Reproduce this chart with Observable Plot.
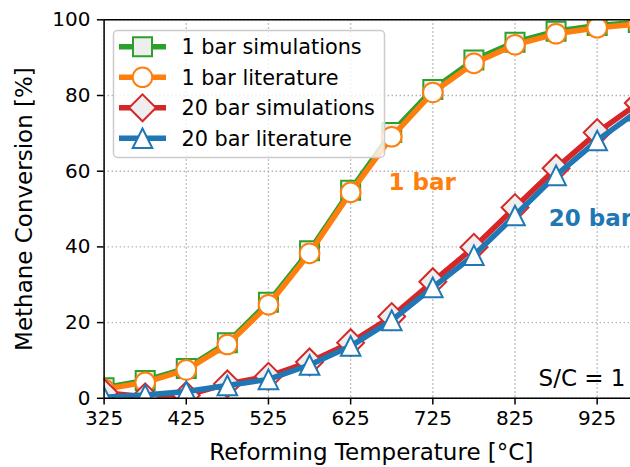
<!DOCTYPE html>
<html>
<head>
<meta charset="utf-8">
<script src="https://cdn.jsdelivr.net/npm/d3@7"></script>
<script src="https://cdn.jsdelivr.net/npm/@observablehq/plot@0.6"></script>
<style>
  html, body { margin: 0; padding: 0; background: #fff; overflow: hidden; }
  #chart { position: relative; width: 630px; height: 467px; }
  #chart svg { display: block; }
  #legend { position: absolute; left: 0; top: 0; pointer-events: none; }
</style>
</head>
<body>
<div id="chart"></div>
<script>
// Reforming temperature [°C]
const temperatures = [325, 375, 425, 475, 525, 575, 625, 675, 725, 775, 825, 875, 925, 975];

// Methane conversion [%]
const sim1bar  = [2.8, 4.7, 7.9, 14.7, 25.4, 39.0, 55.0, 70.2, 81.6, 89.4, 94.1, 97.0, 98.5, 99.3];
const lit1bar  = [2.4, 4.2, 7.5, 14.2, 24.7, 38.3, 54.4, 69.1, 80.8, 88.5, 93.4, 96.3, 97.9, 98.9];
const sim20bar = [1.5, 0.4, 0.8, 3.8, 5.8, 9.6, 14.7, 21.6, 30.8, 39.9, 50.4, 60.8, 70.2, 78.0];
const lit20bar = [0.3, 0.9, 1.8, 3.4, 5.0, 8.8, 13.8, 20.6, 29.3, 37.8, 48.3, 58.9, 68.1, 76.0];

const seriesNames = ["1 bar simulations", "1 bar literature", "20 bar simulations", "20 bar literature"];
const xTicks = [325, 425, 525, 625, 725, 825, 925];
const yTicks = [0, 20, 40, 60, 80, 100];

const annotations = [
  {text: "1 bar", T: 671, v: 57.0, color: "#ff7f0e"},
  {text: "20 bar", T: 866, v: 47.4, color: "#1f77b4"}
];
const conditionLabel = "S/C = 1";

// matplotlib-style marker shapes (r = half the marker size)
const halfSize = (size) => Math.sqrt(size / Math.PI);
const mplSquare = {draw(ctx, size) { const h = halfSize(size);
  ctx.moveTo(-h, -h); ctx.lineTo(h, -h); ctx.lineTo(h, h); ctx.lineTo(-h, h); ctx.closePath(); }};
const mplDiamond = {draw(ctx, size) { const h = halfSize(size) * Math.SQRT2;
  ctx.moveTo(0, -h); ctx.lineTo(h, 0); ctx.lineTo(0, h); ctx.lineTo(-h, 0); ctx.closePath(); }};
const mplTriangle = {draw(ctx, size) { const h = halfSize(size);
  ctx.moveTo(0, -h); ctx.lineTo(h, h); ctx.lineTo(-h, h); ctx.closePath(); }};
const mplCircle = d3.symbolCircle;

const series = [
  {name: seriesNames[0], values: sim1bar,  color: "#2ca02c", symbol: mplSquare,   fill: "#eeeeee", r: 9.5},
  {name: seriesNames[1], values: lit1bar,  color: "#ff7f0e", symbol: mplCircle,   fill: "#ffffff", r: 9.8},
  {name: seriesNames[2], values: sim20bar, color: "#d62728", symbol: mplDiamond,  fill: "#eeeeee", r: 9.5},
  {name: seriesNames[3], values: lit20bar, color: "#1f77b4", symbol: mplTriangle, fill: "#ffffff", r: 9.8}
];

const W = 630, H = 467;
const margin = {left: 103.6, top: 19.3, right: 0, bottom: 69.2};
const pxPerDeg = 0.8218;
const xMax = 325 + (W - margin.left) / pxPerDeg;

const seriesMarks = series.flatMap(s => {
  const rows = temperatures.map((T, i) => ({T, v: s.values[i]}));
  return [
    Plot.line(rows, {x: "T", y: "v", stroke: s.color, strokeWidth: 5.5, clip: true}),
    Plot.dot(rows, {x: "T", y: "v", symbol: s.symbol, r: s.r, fill: s.fill, stroke: s.color, strokeWidth: 2, clip: true})
  ];
});

const chart = Plot.plot({
  width: W,
  height: H,
  marginLeft: margin.left,
  marginTop: margin.top,
  marginRight: margin.right,
  marginBottom: margin.bottom,
  style: {fontFamily: "DejaVu Sans", fontSize: "20px", color: "#000", background: "#fff"},
  x: {domain: [325, xMax]},
  y: {domain: [0, 100]},
  marks: [
    Plot.ruleX(xTicks, {stroke: "#b0b0b0", strokeWidth: 1.4, strokeDasharray: "1.4,2.6"}),
    Plot.ruleY(yTicks, {stroke: "#b0b0b0", strokeWidth: 1.4, strokeDasharray: "1.4,2.6"}),
    ...seriesMarks,
    Plot.ruleY([0], {stroke: "#000", strokeWidth: 1.5}),
    Plot.ruleY([100], {stroke: "#000", strokeWidth: 1.5}),
    Plot.ruleX([325], {stroke: "#000", strokeWidth: 1.5}),
    Plot.axisX({ticks: xTicks, tickSize: 6.7, tickPadding: 6, strokeWidth: 1.5, fontSize: 20, label: null}),
    Plot.axisY({ticks: yTicks, tickSize: 6.7, tickPadding: 7, strokeWidth: 1.5, fontSize: 20, label: null}),
    Plot.text(annotations, {x: "T", y: "v", text: "text", fill: "color", fontWeight: "bold", fontSize: 23, textAnchor: "start"}),
    Plot.text([conditionLabel], {frameAnchor: "bottom-right", dx: -5, dy: -12, fontSize: 23, textAnchor: "end", lineAnchor: "bottom", fill: "#000"}),
    Plot.text(["Reforming Temperature [°C]"], {frameAnchor: "bottom", dx: 4, dy: 54, fontSize: 23, textAnchor: "middle", lineAnchor: "middle", fill: "#000"}),
    Plot.text(["Methane Conversion [%]"], {frameAnchor: "left", dx: -79, rotate: -90, fontSize: 23, textAnchor: "middle", lineAnchor: "middle", fill: "#000"})
  ]
});

const host = document.getElementById("chart");
host.appendChild(chart);

// Legend box in the upper-left corner of the axes
const legend = d3.select(host).append("svg")
  .attr("id", "legend").attr("width", W).attr("height", H)
  .style("font-family", "DejaVu Sans");

legend.append("rect")
  .attr("x", 113.5).attr("y", 30.5).attr("width", 271).attr("height", 127)
  .attr("rx", 4).attr("fill", "#fff").attr("fill-opacity", 0.8)
  .attr("stroke", "#cccccc").attr("stroke-width", 1.5);

series.forEach((s, i) => {
  const cy = 46.8 + i * 30.5;
  const g = legend.append("g");
  g.append("line").attr("x1", 119).attr("x2", 166).attr("y1", cy).attr("y2", cy)
    .attr("stroke", s.color).attr("stroke-width", 5.5);
  g.append("path").attr("d", d3.symbol(s.symbol, Math.PI * s.r * s.r)())
    .attr("transform", `translate(142.5,${cy})`)
    .attr("fill", s.fill).attr("stroke", s.color).attr("stroke-width", 2);
  g.append("text").attr("x", 181.5).attr("y", cy).attr("dy", "0.36em")
    .attr("font-size", 20.8).attr("fill", "#000").text(s.name);
});
</script>
</body>
</html>
